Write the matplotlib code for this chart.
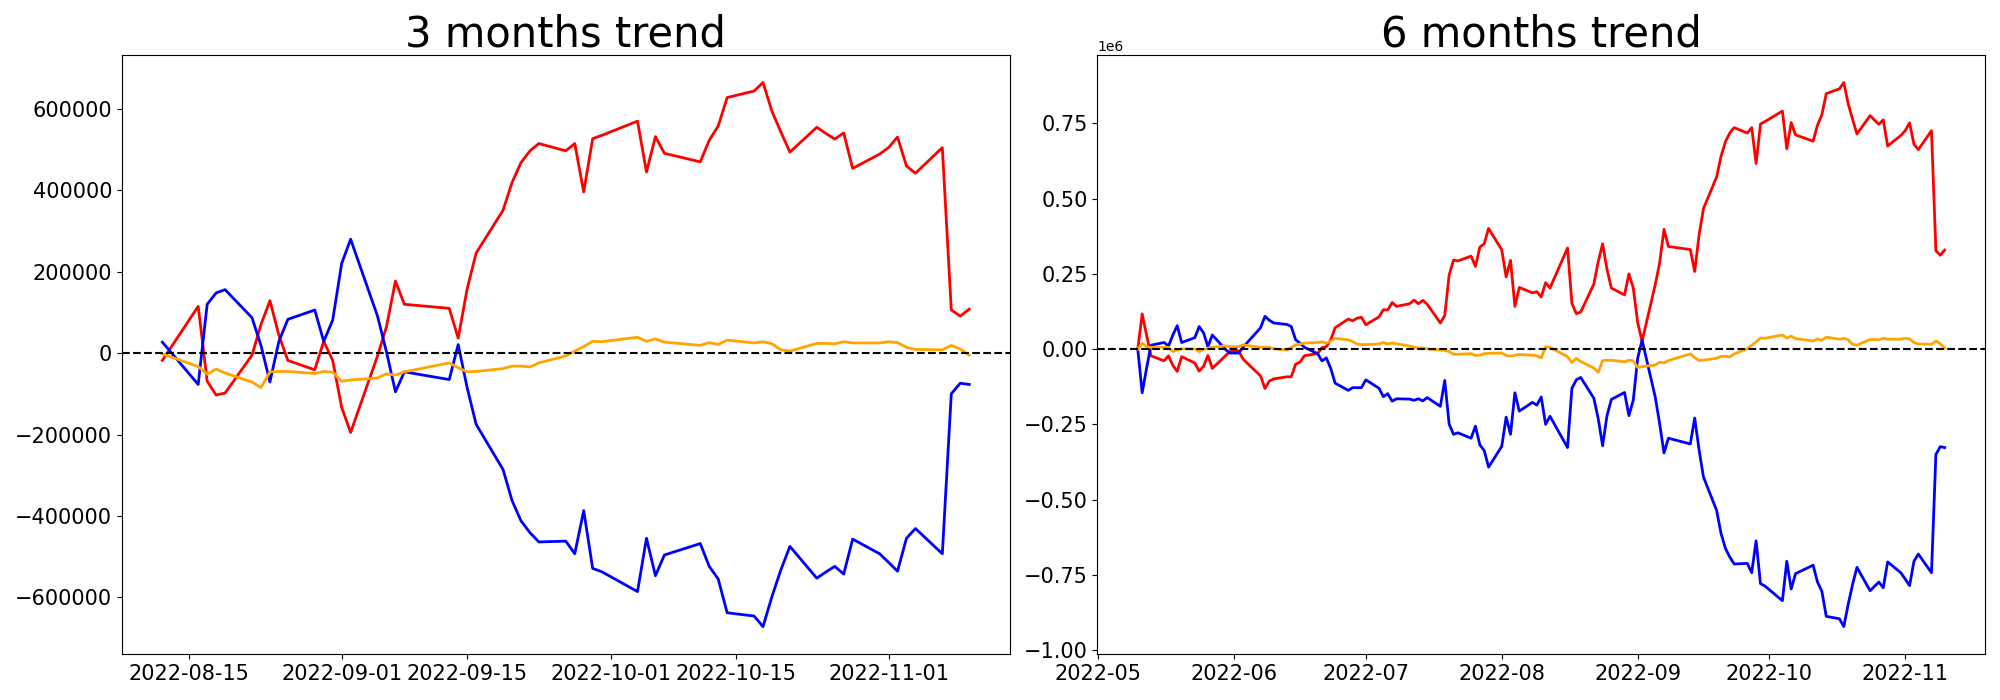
import matplotlib
matplotlib.use("Agg")
import matplotlib.pyplot as plt
import numpy as np
import pandas as pd

# KRX closed days inside the plotted range
holidays = ["2022-06-01", "2022-06-06", "2022-08-15", "2022-09-09",
            "2022-09-12", "2022-10-03", "2022-10-10"]

def trading_days(start, end):
    days = pd.bdate_range(start, end)
    return days[~days.isin(pd.to_datetime(holidays))]

dates_3m = trading_days("2022-08-12", "2022-11-10")
dates_6m = trading_days("2022-05-10", "2022-11-10")

# cumulative net values, in thousands
red_3m = [-18, 115, -69, -103, -98, -5, 70, 129, 44, -18, -41, 29, -18, -133, -195,
          -7, 65, 177, 120, 110, 37, 158, 246, 351, 419, 468, 497, 515, 497, 515,
          396, 527, 535, 570, 445, 532, 491, 470, 523, 558, 628, 644, 665, 594, 543,
          494, 555, 540, 526, 541, 454, 489, 505, 531, 460, 442, 505, 106, 91, 108]
blue_3m = [27, -77, 120, 148, 156, 87, 19, -71, 29, 83, 106, 29, 81, 220, 280,
           91, 3, -95, -46, -65, 21, -85, -175, -286, -362, -412, -441, -464, -462, -493,
           -387, -529, -537, -586, -455, -547, -496, -468, -524, -555, -638, -646, -672, -598, -532,
           -475, -553, -538, -524, -543, -457, -493, -514, -536, -455, -431, -493, -100, -74, -77]
orange_3m = [-2, -33, -52, -39, -49, -71, -85, -46, -45, -45, -50, -45, -47, -69, -66,
             -61, -51, -54, -46, -24, -36, -46, -45, -38, -32, -32, -34, -24, -7, 5,
             16, 29, 28, 39, 29, 35, 27, 19, 26, 21, 32, 25, 28, 23, 8,
             5, 24, 24, 23, 28, 25, 25, 28, 26, 14, 9, 8, 19, 10, -5]

red_6m = [0, 117, 47, -22, -39, -22, -54, -74, -25, -46, -73, -57, -21, -64, -22, -8,
          -6, -33, -89, -131, -106, -99, -92, -92, -50, -43, -22, -15, 5, 8, 31, 71, 100, 94, 103, 106,
          81, 107, 131, 130, 155, 142, 151, 163, 151, 162, 149, 87, 112, 246, 296, 293, 309, 275, 339, 350, 401,
          330, 240, 295, 142, 205, 187, 191, 173, 221,
          203, 336, 152, 118, 123, 216, 291, 350, 265, 203, 180, 250, 203, 88, 26,
          214, 286, 398, 341, 331, 258, 379, 467, 572, 640, 689, 718, 736, 718, 736,
          617, 748, 756, 791, 666, 753, 712, 691, 744, 779, 849, 865, 886, 815, 764,
          715, 776, 761, 747, 762, 675, 710, 726, 752, 681, 663, 726, 327, 312, 329]
blue_6m = [0, -145, -64, 13, 22, 10, 47, 78, 22, 38, 75, 54, 8, 47, -1, -13,
           -13, 6, 71, 109, 96, 87, 82, 75, 31, 20, 6, -15, -39, -29, -64, -113, -137, -128, -128, -128,
           -102, -130, -158, -148, -173, -165, -166, -170, -165, -172, -161, -190, -104, -249, -283, -278, -296, -256, -318, -337, -392,
           -323, -226, -283, -145, -206, -177, -186, -159, -250,
           -223, -327, -130, -102, -94, -163, -231, -321, -221, -167, -144, -221, -169, -30, 30,
           -159, -247, -345, -296, -315, -229, -335, -425, -536, -612, -662, -691, -714, -712, -743,
           -637, -779, -787, -836, -705, -797, -746, -718, -774, -805, -888, -896, -922, -848, -782,
           -725, -803, -788, -774, -793, -707, -743, -764, -786, -705, -681, -743, -350, -324, -327]
orange_6m = [0, 20, 8, 6, 6, 6, -8, -3, 1, 1, -8, -1, 3, 6, 11, 8,
             8, 14, 6, 6, 6, 1, -3, 6, 14, 17, 20, 22, 24, 20, 26, 36, 31, 25, 17, 15,
             15, 17, 22, 17, 20, 18, 10, 6, 4, 4, 1, -3, -4, -8, -17, -17, -15, -21, -20, -15, -14,
             -13, -21, -24, -20, -18, -20, -22, -29, 8,
             6, -25, -44, -31, -41, -63, -77, -38, -37, -37, -42, -37, -39, -61, -58,
             -53, -43, -46, -38, -16, -28, -38, -37, -30, -24, -24, -26, -16, 1, 13,
             24, 37, 36, 47, 37, 43, 35, 27, 34, 29, 40, 33, 36, 31, 16,
             13, 32, 32, 31, 36, 33, 33, 36, 34, 22, 17, 16, 27, 18, 3]

fig, (ax1, ax2) = plt.subplots(1, 2, figsize=(20, 7), dpi=100)
plt.subplots_adjust(left=0.061, right=0.9925, bottom=0.066, top=0.921, wspace=0.099)

for ax, dates, red, blue, orange, title in [
        (ax1, dates_3m, red_3m, blue_3m, orange_3m, "3 months trend"),
        (ax2, dates_6m, red_6m, blue_6m, orange_6m, "6 months trend")]:
    ax.plot(dates, np.array(red) * 1000, color="red", linewidth=2)
    ax.plot(dates, np.array(blue) * 1000, color="blue", linewidth=2)
    ax.plot(dates, np.array(orange) * 1000, color="orange", linewidth=2)
    ax.axhline(0, color="black", linestyle="--", linewidth=1.5)
    ax.set_title(title, fontsize=30)
    ax.tick_params(labelsize=15)
    ax.yaxis.get_offset_text().set_fontsize(10)

plt.savefig("out.png")
